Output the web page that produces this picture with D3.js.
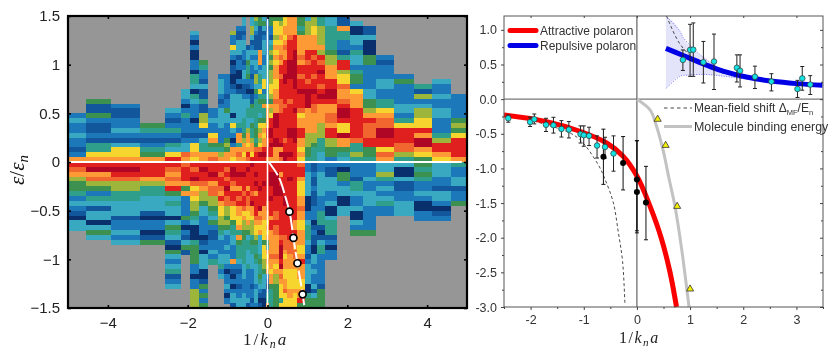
<!DOCTYPE html>
<html>
<head>
<meta charset="utf-8">
<script src="https://d3js.org/d3.v7.min.js"></script>
<style>
  body { margin: 0; background: #fff; }
  text { font-family: "Liberation Sans", Arial, sans-serif; }
  svg { filter: blur(0.35px); }
</style>
</head>
<body>
<div id="chart"></div>
<script>
// left panel: column edges in 1/k_n a, one string per column, one char per 0.05 energy row
var heatEdges = [-5,-4.55,-3.93,-3.2,-2.56,-2.16,-1.93,-1.71,-1.48,-1.25,-1.08,-.95,-.78,-.65,-.55,-.45,-.35,-.25,-.15,-.05,.03,.15,.28,.38,.5,.63,.75,.93,1.1,1.25,1.45,1.75,2.08,2.4,2.73,3.16,3.66,4.13,4.59,5];
// upper strings end at energy 0, read downward
var heatUpper = [
  "2322322128","5115211214478","211223213778","54212458","3212421437a","332024222123398",
  "320200220443043222022127787","542213114116672134488","22322785489","233321233332225468",
  "222212253322256588","622732011001233330373202887","2113331220020133333342884898",
  "332123322123321123333444568878","1335445210233443368878a9","33663123232212201154435446887a",
  "6432111323326635244444455459aa","551111188823443745443576 8679ba",
  "353123332233377245844578788aba","12122222334443343278888aa99aa8","552213465656667765867aabbabaa8",
  "57776787878887788988bbbaabb888","5677878898aa9aaaa999aaaaaab8b9","778878988aaabbaaaa9aaaaaa9aabb",
  "88889aaaabbbbaaaa9aaaaabbaaaba","8888aaabbbbbbbbaaaabaaabbbaaaa","5545888898aa9aabaaa9788aa88787",
  "3666888aa9aaa9abbbb88888666554","6677888a9aaa9aabaa998888665444","44666686a9abaa9aba888866644433",
  "3344444566888aabba88998aa66552","118442214aa6779889abba77b88543","300332433245527888aaaaaa94464",
  "1130005522222335568a999aa554","212223322447899bbaa798","25222233247aaa9964",
  "416236677a8bb875","3223223322246aa87","222225657aaaa8"
];
// lower strings start at energy 0, read downward
var heatLower = [
  "a9865542321033","ab89652431330353","aba96644333122323","aaa86443331022015",
  "a9898a53433035431053234123","9aaa858222252021351","a9ab97876654300045555220226666",
  "abaa98665332222012033300152525","aaba89966543521122324","aa9aa98a8776654322233423",
  "a9a9aba9966565322323320223202","abba98aa9777544332228210202331","aabaa8a9a887784854443212212233",
  "aabaaa9aa978665544444333222333","abaaa8a99877865344333422222231","baaaaa9ab887666454433322212212",
  "aababa8aaaa9877654454333323332","aaaaabaaab89878333345445432101","aaaabaaaa888777757776653331100",
  "aaaaaaaa9988787854878782102448","aabbbaabaaa8aa8888898878854444","aabbbbbaaa99a99888898786655555",
  "aa8aabbaaaaaaaa9abbbab89877747","aaaaaaabbaaaaaa999878877889777","aaabaaaaaaaaaaaa99988877778877",
  "aaaaaaaaaaaa88a888998877778777","9aa87778898877888778a8887788a5","223333300022344432212333300455",
  "112112111222012110033232231355","223333322244410134422222215555","21133322300344412022",
  "20552330033","222144322300325","222322333222225","33642323422","30031122333",
  "545422320022","333221332012","422331225"
];
var heatCodes = ["0","1","2","3","4","5","6","7","8","9","a","b"];
var heatColors = ["#0a2f6d","#12569b","#1c78b8","#38a9c0","#2f9f8c","#3c9150","#9db53a","#f6d52e","#fd9a35","#f1652e","#e0201e","#b00626"];

// white curve and open circles on the left panel
var peakCurveX = [0.03,0.25,0.45,0.55,0.65,0.75,0.88,0.93];
var peakCurveY = [0,-0.13,-0.36,-0.51,-0.78,-1.04,-1.36,-1.5];
var peakX = [0.55,0.65,0.75,0.88];
var peakY = [-0.51,-0.78,-1.04,-1.36];

var leftTicksX = [-4,-2,0,2,4];
var leftTicksY = [-1.5,-1,-0.5,0,0.5,1,1.5];

// right panel curves
var attractiveX = [-2.5,-1.7,-1.06,-0.57,-0.26,0,0.244,0.46,0.62,0.745];
var attractiveY = [-0.23,-0.325,-0.467,-0.633,-0.824,-1.11,-1.54,-2.01,-2.49,-3];
var repulsiveX = [0.545,0.87,1.25,1.62,2.06,2.56,3,3.49];
var repulsiveY = [0.733,0.63,0.51,0.404,0.319,0.257,0.224,0.2];
var moleculeX = [0,0.25,0.37,0.49,0.607,0.714,0.84,0.98];
var moleculeY = [0,-0.157,-0.395,-0.73,-1.157,-1.54,-2.157,-3];
var meanAttX = [-2.14,-1.7,-1.32,-1.07,-0.73,-0.6,-0.445,-0.35,-0.27,-0.226];
var meanAttY = [-0.27,-0.37,-0.467,-0.586,-0.943,-1.157,-1.49,-1.92,-2.34,-2.95];
var meanRepX = [0.558,0.81,1.12,1.56,2.06,2.69,3.47];
var meanRepY = [1.2,0.795,0.557,0.39,0.31,0.239,0.186];
var bandX = [0.545,0.81,0.87,1.25,1.69,2.06,2.4];
var bandHigh = [1.2,0.98,0.89,0.604,0.39,0.33,0.29];
var bandLow = [0.153,0.329,0.34,0.357,0.325,0.29,0.27];

// cyan points with error bars
var cyanX = [-2.42,-2.01,-1.93,-1.71,-1.57,-1.42,-1.28,-1.06,-1,-0.9,-0.75,-0.6,-0.44,0.865,1,1.06,1.25,1.45,1.88,1.94,2.22,2.53,3.02,3.11,3.26];
var cyanY = [-0.276,-0.33,-0.29,-0.37,-0.376,-0.43,-0.44,-0.505,-0.52,-0.53,-0.67,-0.69,-0.785,0.567,0.71,0.714,0.533,0.543,0.453,0.41,0.324,0.253,0.147,0.3,0.21];
var cyanHigh = [-0.23,-0.26,-0.214,-0.276,-0.262,-0.31,-0.324,-0.386,-0.386,-0.405,-0.53,-0.55,-0.53,0.71,1.08,1.1,0.833,0.939,0.639,0.639,0.476,0.367,0.271,0.471,0.339];
var cyanLow = [-0.333,-0.395,-0.357,-0.467,-0.49,-0.547,-0.56,-0.633,-0.68,-0.67,-0.85,-0.85,-1.04,0.414,0.329,0.329,0.233,0.139,0.247,0.176,0.153,0.119,0.024,0.129,0.067];
// black points with error bars
var blackX = [-0.63,-0.26,0,0,0.17];
var blackY = [-0.83,-0.92,-1.16,-1.34,-1.49];
var blackHigh = [-0.433,-0.54,-0.6,-0.6,-0.97];
var blackLow = [-1.23,-1.31,-1.9,-1.93,-2.03];
// yellow triangles
var triX = [0.39,0.54,0.757,1];
var triY = [-0.29,-0.667,-1.547,-2.74];

var rightTicksX = [-2,-1,0,1,2,3];
var rightLabelsX = ["-2","-1","0","1","2","3"];
var rightTicksY = [-3,-2.5,-2,-1.5,-1,-0.5,0,0.5,1];
var rightLabelsY = ["-3.0","-2.5","-2.0","-1.5","-1.0","-0.5","0.0","0.5","1.0"];
var rightMinorX = [-2.5,-1.5,-0.5,0.5,1.5,2.5,3.5];
var rightMinorY = [-2.75,-2.25,-1.75,-1.25,-0.75,-0.25,0.25,0.75];

var svg = d3.select("#chart").append("svg").attr("width", 831).attr("height", 358).style("display", "block");

drawHeat();
drawCurves();

function zip(xs, ys) {
  return xs.map(function(d, i) { return [d, ys[i]]; });
}

function drawHeat() {
  var x = d3.scaleLinear().domain([-5, 5]).range([68, 467]);
  var y = d3.scaleLinear().domain([1.5, -1.5]).range([16, 308]);
  var color = d3.scaleOrdinal(heatCodes, heatColors);
  var rowStep = 0.05;

  svg.append("rect").attr("x", x(-5)).attr("y", y(1.5))
    .attr("width", x(5) - x(-5)).attr("height", y(-1.5) - y(1.5)).attr("fill", "#969696");

  var cells = [];
  heatUpper.forEach(function(col, c) {
    col = col.replace(/ /g, "");
    col.split("").forEach(function(v, i) {
      cells.push({col: c, top: (col.length - i) * rowStep, v: v});
    });
  });
  heatLower.forEach(function(col, c) {
    col.split("").forEach(function(v, i) {
      cells.push({col: c, top: -i * rowStep, v: v});
    });
  });

  svg.append("g").attr("shape-rendering", "crispEdges")
    .selectAll("rect").data(cells).enter().append("rect")
    .attr("x", function(d) { return x(heatEdges[d.col]); })
    .attr("width", function(d) { return x(heatEdges[d.col + 1]) - x(heatEdges[d.col]); })
    .attr("y", function(d) { return y(d.top); })
    .attr("height", y(0) - y(rowStep) + 0.5)
    .attr("fill", function(d) { return color(d.v); });

  // white guide lines
  svg.append("line").attr("x1", x(-5)).attr("x2", x(4.87)).attr("y1", y(0)).attr("y2", y(0))
    .attr("stroke", "#fff").attr("stroke-width", 2);
  svg.append("line").attr("x1", x(0)).attr("x2", x(0)).attr("y1", y(1.5)).attr("y2", y(-1.5))
    .attr("stroke", "#fff").attr("stroke-width", 1.5);

  var line = d3.line().x(function(d) { return x(d[0]); }).y(function(d) { return y(d[1]); });
  svg.append("path").attr("d", line.curve(d3.curveMonotoneY)(zip(peakCurveX, peakCurveY)))
    .attr("fill", "none").attr("stroke", "#fff").attr("stroke-width", 2).attr("stroke-dasharray", "16,3");
  svg.append("g").selectAll("circle").data(zip(peakX, peakY)).enter().append("circle")
    .attr("cx", function(d) { return x(d[0]); })
    .attr("cy", function(d) { return y(d[1]); })
    .attr("r", 3.5).attr("fill", "#fff").attr("stroke", "#000").attr("stroke-width", 1.7);

  // axes, ticks point inward
  var bottom = svg.append("g").attr("transform", "translate(0,308)")
    .call(d3.axisBottom(x).tickValues(leftTicksX).tickSize(-3).tickPadding(9).tickFormat(d3.format("~g")));
  var left = svg.append("g").attr("transform", "translate(68,0)")
    .call(d3.axisLeft(y).tickValues(leftTicksY).tickSize(-3).tickPadding(8).tickFormat(d3.format("~g")));
  svg.append("g").attr("transform", "translate(0,16)")
    .call(d3.axisTop(x).tickValues(leftTicksX).tickSize(-3).tickFormat(""));
  svg.append("g").attr("transform", "translate(467,0)")
    .call(d3.axisRight(y).tickValues(leftTicksY).tickSize(-3).tickFormat(""));
  [bottom, left].forEach(function(a) {
    a.selectAll("text").attr("font-size", 15).attr("fill", "#222")
      .style("font-family", "'Liberation Sans', Arial, sans-serif");
  });
  svg.selectAll(".domain").attr("stroke", "none");
  svg.selectAll(".tick line").attr("stroke", "#000").attr("stroke-width", 1.6);

  svg.append("rect").attr("x", x(-5)).attr("y", y(1.5))
    .attr("width", x(5) - x(-5)).attr("height", y(-1.5) - y(1.5))
    .attr("fill", "none").attr("stroke", "#000").attr("stroke-width", 2.2);

  axisTitle(243, 345, 17, 2);

  // y title
  var t = svg.append("text").attr("transform", "translate(24,170) rotate(-90)")
    .attr("text-anchor", "middle").attr("font-size", 21).attr("fill", "#111")
    .style("font-family", "'Liberation Serif', serif");
  t.append("tspan").attr("font-style", "italic").text("ε");
  t.append("tspan").text("/");
  t.append("tspan").attr("font-style", "italic").text("ε");
  t.append("tspan").attr("font-style", "italic").attr("font-size", 15).attr("dy", 4).text("n");
}

function axisTitle(px, py, size, spacing) {
  var t = svg.append("text").attr("x", px).attr("y", py).attr("font-size", size).attr("fill", "#222")
    .style("font-family", "'Liberation Serif', serif").style("letter-spacing", spacing + "px");
  t.append("tspan").text("1/");
  t.append("tspan").attr("font-style", "italic").text("k");
  t.append("tspan").attr("font-style", "italic").attr("font-size", size * 0.7).attr("dy", 3).text("n");
  t.append("tspan").attr("font-style", "italic").attr("dy", -3).text("a");
}

function drawCurves() {
  var x = d3.scaleLinear().domain([-2.5, 3.5]).range([504, 823]);
  var y = d3.scaleLinear().domain([1.2, -3]).range([16, 307]);
  var g = svg.append("g");
  var line = d3.line().x(function(d) { return x(d[0]); }).y(function(d) { return y(d[1]); }).curve(d3.curveCatmullRom);

  // shaded uncertainty of the repulsive branch
  var area = d3.area().x(function(d) { return x(d[0]); })
    .y0(function(d) { return y(d[1]); }).y1(function(d) { return y(d[2]); }).curve(d3.curveMonotoneX);
  var band = bandX.map(function(d, i) { return [d, bandLow[i], bandHigh[i]]; });
  g.append("path").attr("d", area(band)).attr("fill", "#e3e3fa");
  [bandHigh, bandLow].forEach(function(edge) {
    g.append("path").attr("d", line(zip(bandX, edge))).attr("fill", "none")
      .attr("stroke", "#5a5af0").attr("stroke-width", 0.8).attr("stroke-dasharray", "1,1.5");
  });

  // zero lines
  g.append("line").attr("x1", x(-2.5)).attr("x2", x(3.5)).attr("y1", y(0)).attr("y2", y(0))
    .attr("stroke", "#777").attr("stroke-width", 1.4);
  g.append("line").attr("x1", x(0)).attr("x2", x(0)).attr("y1", y(1.2)).attr("y2", y(-3))
    .attr("stroke", "#444").attr("stroke-width", 1);

  function curve(xs, ys, stroke, width, dash) {
    g.append("path").attr("d", line(zip(xs, ys))).attr("fill", "none")
      .attr("stroke", stroke).attr("stroke-width", width).attr("stroke-dasharray", dash || null);
  }
  curve(meanAttX, meanAttY, "#333", 0.9, "3,2.5");
  curve(meanRepX, meanRepY, "#333", 0.9, "3,2.5");
  curve(moleculeX, moleculeY, "#c2c2c2", 3);
  curve(attractiveX, attractiveY, "#fa0000", 5);
  curve(repulsiveX, repulsiveY, "#0000e6", 5);

  function errorBars(xs, highs, lows, stroke) {
    var rows = xs.map(function(d, i) { return {x: d, hi: highs[i], lo: lows[i]}; });
    var e = g.append("g").attr("stroke", stroke).attr("stroke-width", 1).selectAll("g").data(rows).enter().append("g");
    e.append("line").attr("x1", function(d) { return x(d.x); }).attr("x2", function(d) { return x(d.x); })
      .attr("y1", function(d) { return y(d.hi); }).attr("y2", function(d) { return y(d.lo); });
    ["hi", "lo"].forEach(function(k) {
      e.append("line").attr("x1", function(d) { return x(d.x) - 2; }).attr("x2", function(d) { return x(d.x) + 2; })
        .attr("y1", function(d) { return y(d[k]); }).attr("y2", function(d) { return y(d[k]); });
    });
  }
  errorBars(blackX, blackHigh, blackLow, "#111");
  errorBars(cyanX, cyanHigh, cyanLow, "#222");

  g.append("g").selectAll("circle").data(zip(blackX, blackY)).enter().append("circle")
    .attr("cx", function(d) { return x(d[0]); }).attr("cy", function(d) { return y(d[1]); })
    .attr("r", 3).attr("fill", "#000");
  g.append("g").selectAll("circle").data(zip(cyanX, cyanY)).enter().append("circle")
    .attr("cx", function(d) { return x(d[0]); }).attr("cy", function(d) { return y(d[1]); })
    .attr("r", 2.8).attr("fill", "#12e2e2").attr("stroke", "#333").attr("stroke-width", 0.7);
  g.append("g").selectAll("path").data(zip(triX, triY)).enter().append("path")
    .attr("transform", function(d) { return "translate(" + x(d[0]) + "," + y(d[1]) + ")"; })
    .attr("d", d3.symbol().type(d3.symbolTriangle).size(22))
    .attr("fill", "#f5f000").attr("stroke", "#333").attr("stroke-width", 0.8);

  // frame and ticks
  g.append("rect").attr("x", x(-2.5)).attr("y", y(1.2)).attr("width", x(3.5) - x(-2.5)).attr("height", y(-3) - y(1.2))
    .attr("fill", "none").attr("stroke", "#555").attr("stroke-width", 1);

  var bottom = g.append("g").attr("transform", "translate(0,307)")
    .call(d3.axisBottom(x).tickValues(rightTicksX).tickSize(3).tickPadding(5)
      .tickFormat(function(d, i) { return rightLabelsX[i]; }));
  var left = g.append("g").attr("transform", "translate(504,0)")
    .call(d3.axisLeft(y).tickValues(rightTicksY).tickSize(3).tickPadding(4)
      .tickFormat(function(d, i) { return rightLabelsY[i]; }));
  g.append("g").attr("transform", "translate(0,307)").call(d3.axisBottom(x).tickValues(rightMinorX).tickSize(2).tickFormat(""));
  g.append("g").attr("transform", "translate(504,0)").call(d3.axisLeft(y).tickValues(rightMinorY).tickSize(2).tickFormat(""));
  g.append("g").attr("transform", "translate(0,16)").call(d3.axisTop(x).tickValues(rightTicksX).tickSize(-2).tickFormat(""));
  g.append("g").attr("transform", "translate(823,0)").call(d3.axisRight(y).tickValues(rightTicksY).tickSize(-3).tickFormat(""));
  g.append("g").attr("transform", "translate(823,0)").call(d3.axisRight(y).tickValues(rightMinorY).tickSize(-2).tickFormat(""));
  [bottom, left].forEach(function(a) {
    a.selectAll("text").attr("font-size", 12.5).attr("fill", "#333")
      .style("font-family", "'Liberation Sans', Arial, sans-serif");
  });
  g.selectAll(".domain").attr("stroke", "none");
  g.selectAll(".tick line").attr("stroke", "#444").attr("stroke-width", 1);

  axisTitle(619, 343, 16, 1.5);

  // legends
  function legendLine(x1, x2, py, stroke, width, dash) {
    g.append("line").attr("x1", x1).attr("x2", x2).attr("y1", py).attr("y2", py)
      .attr("stroke", stroke).attr("stroke-width", width)
      .attr("stroke-linecap", dash ? "butt" : "round").attr("stroke-dasharray", dash || null);
  }
  function legendText(px, py, label, size) {
    return g.append("text").attr("x", px).attr("y", py).attr("font-size", size).attr("fill", "#333").text(label);
  }
  legendLine(510, 536, 30.5, "#fa0000", 5);
  legendLine(510, 536, 45.5, "#0000e6", 5);
  legendText(540, 35, "Attractive polaron", 12);
  legendText(540, 50, "Repulsive polaron", 12);
  legendLine(664, 692, 108, "#333", 0.9, "3.5,3");
  legendLine(664, 692, 126.5, "#c2c2c2", 3, "28,0");
  var mf = legendText(694, 112, "Mean-field shift Δ", 12);
  mf.append("tspan").attr("font-size", 7.5).attr("dy", 2.5).text("MF");
  mf.append("tspan").attr("dy", -2.5).text("/E");
  mf.append("tspan").attr("font-size", 7.5).attr("dy", 2.5).text("n");
  legendText(694, 131, "Molecule binding energy", 12.4);
}
</script>
</body>
</html>
